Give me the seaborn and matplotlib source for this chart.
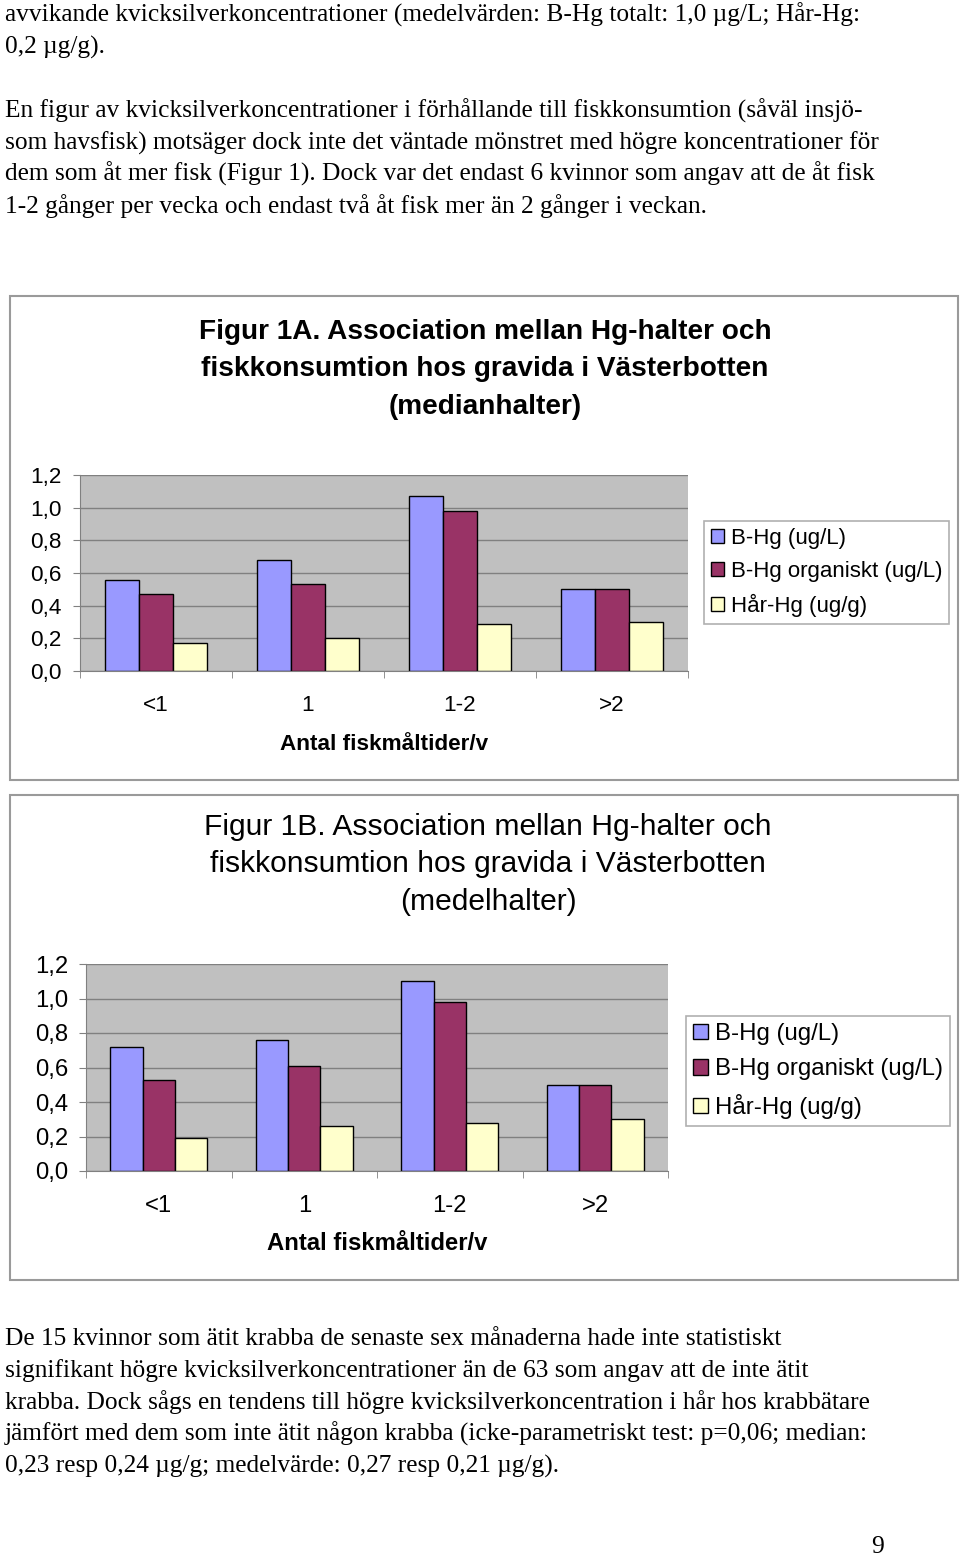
import matplotlib
matplotlib.use("Agg")
import matplotlib.pyplot as plt
from matplotlib.patches import Rectangle
import seaborn as sns
import pandas as pd

# --- data ---
categories = ["<1", "1", "1-2", ">2"]
series = ["B-Hg (ug/L)", "B-Hg organiskt (ug/L)", "Hår-Hg (ug/g)"]

median_bhg = [0.56, 0.68, 1.07, 0.50]
median_org = [0.47, 0.53, 0.98, 0.50]
median_hair = [0.17, 0.20, 0.29, 0.30]

mean_bhg = [0.72, 0.76, 1.10, 0.50]
mean_org = [0.53, 0.61, 0.98, 0.50]
mean_hair = [0.19, 0.26, 0.28, 0.30]

yticks = [0.0, 0.2, 0.4, 0.6, 0.8, 1.0, 1.2]
ytick_labels = ["0,0", "0,2", "0,4", "0,6", "0,8", "1,0", "1,2"]
xlabel = "Antal fiskmåltider/v"

title_a = ["Figur 1A. Association mellan Hg-halter och",
           "fiskkonsumtion hos gravida i Västerbotten",
           "(medianhalter)"]
title_b = ["Figur 1B. Association mellan Hg-halter och",
           "fiskkonsumtion hos gravida i Västerbotten",
           "(medelhalter)"]

text_top = ["avvikande kvicksilverkoncentrationer (medelvärden: B-Hg totalt: 1,0 µg/L; Hår-Hg:",
            "0,2 µg/g).",
            "",
            "En figur av kvicksilverkoncentrationer i förhållande till fiskkonsumtion (såväl insjö-",
            "som havsfisk) motsäger dock inte det väntade mönstret med högre koncentrationer för",
            "dem som åt mer fisk (Figur 1). Dock var det endast 6 kvinnor som angav att de åt fisk",
            "1-2 gånger per vecka och endast två åt fisk mer än 2 gånger i veckan."]
text_bottom = ["De 15 kvinnor som ätit krabba de senaste sex månaderna hade inte statistiskt",
               "signifikant högre kvicksilverkoncentrationer än de 63 som angav att de inte ätit",
               "krabba. Dock sågs en tendens till högre kvicksilverkoncentration i hår hos krabbätare",
               "jämfört med dem som inte ätit någon krabba (icke-parametriskt test: p=0,06; median:",
               "0,23 resp 0,24 µg/g; medelvärde: 0,27 resp 0,21 µg/g)."]

colors = ["#9999FF", "#993366", "#FFFFCC"]

SANS = "Liberation Sans"
SERIF = "Liberation Serif"
BODY = 18.3

W, H = 960, 1556
fig = plt.figure(figsize=(W / 100, H / 100), dpi=100)


def fx(x):
    return x / W


def fy(y):
    return 1 - y / H


# body text
for i, line in enumerate(text_top):
    fig.text(fx(5), fy(22 + i * 31.8), line, fontfamily=SERIF, fontsize=BODY, va="baseline")
for i, line in enumerate(text_bottom):
    fig.text(fx(5), fy(1345 + i * 32), line, fontfamily=SERIF, fontsize=BODY, va="baseline")
fig.text(fx(878), fy(1553), "9", fontfamily=SERIF, fontsize=BODY, va="baseline", ha="center")


def chart(box, axbox, vals, title, title_weight, title_x, title_y, title_fs,
          leg_xy, leg_fs, xlab_y, fs, xpad):
    x0, y0, x1, y1 = box
    fig.add_artist(Rectangle((fx(x0), fy(y1)), (x1 - x0) / W, (y1 - y0) / H,
                             transform=fig.transFigure, fill=False,
                             edgecolor="#9a9a9a", lw=1.5))
    for j, line in enumerate(title):
        fig.text(fx(title_x), fy(title_y + j * 37.5), line, ha="center", va="center",
                 fontfamily=SANS, fontsize=title_fs, fontweight=title_weight)

    l, t, r, b = axbox
    ax = fig.add_axes([fx(l), fy(b), (r - l) / W, (b - t) / H])
    df = pd.DataFrame({
        "kat": categories * 3,
        "serie": [s for s in series for _ in categories],
        "varde": vals[0] + vals[1] + vals[2],
    })
    sns.barplot(data=df, x="kat", y="varde", hue="serie", palette=colors,
                width=0.667, saturation=1, edgecolor="black", linewidth=1,
                errorbar=None, ax=ax)
    ax.set_facecolor("#C0C0C0")
    ax.set_ylim(0, 1.2)
    ax.set_xlim(-0.5, 3.5)
    ax.set_yticks(yticks)
    ax.set_yticklabels(ytick_labels, fontfamily=SANS, fontsize=fs)
    ax.yaxis.grid(True, color="#808080", lw=1)
    ax.set_axisbelow(True)
    ax.tick_params(axis="y", length=5, color="#808080", pad=8)
    ax.set_xticks(range(len(categories)))
    ax.set_xticklabels(categories, fontfamily=SANS, fontsize=fs)
    ax.set_xticks([-0.5, 0.5, 1.5, 2.5, 3.5], minor=True)
    ax.tick_params(axis="x", which="major", length=0, pad=xpad)
    ax.tick_params(axis="x", which="minor", length=5, color="#808080")
    for s in ["top", "right"]:
        ax.spines[s].set_visible(False)
    for s in ["left", "bottom"]:
        ax.spines[s].set_color("#808080")
    ax.set_xlabel("")
    ax.set_ylabel("")
    fig.text(fx((l + r) / 2), fy(xlab_y), xlabel, ha="center", va="center",
             fontfamily=SANS, fontsize=fs, fontweight="bold")

    handles, labels = ax.get_legend_handles_labels()
    ax.legend(handles, labels, loc="upper left", bbox_to_anchor=(fx(leg_xy[0]), fy(leg_xy[1])),
              bbox_transform=fig.transFigure, frameon=True, fancybox=False,
              edgecolor="#b0b0b0", framealpha=1, borderaxespad=0,
              handlelength=0.6, handleheight=0.6, handletextpad=0.3,
              borderpad=0.3, labelspacing=0.55,
              prop={"family": SANS, "size": leg_fs})
    ax.get_legend().get_frame().set_linewidth(1.2)
    return ax


chart((10, 296, 958, 780), (80, 475, 688, 671),
      [median_bhg, median_org, median_hair], title_a, "bold", 485, 332, 20.2,
      (704, 521), 16.0, 744, 16.2, 17)
chart((10, 795, 958, 1280), (86, 964, 668, 1171),
      [mean_bhg, mean_org, mean_hair], title_b, "normal", 488, 827, 21.6,
      (686, 1016), 17.3, 1243, 17.2, 17)

fig.savefig("out.png", dpi=100)
